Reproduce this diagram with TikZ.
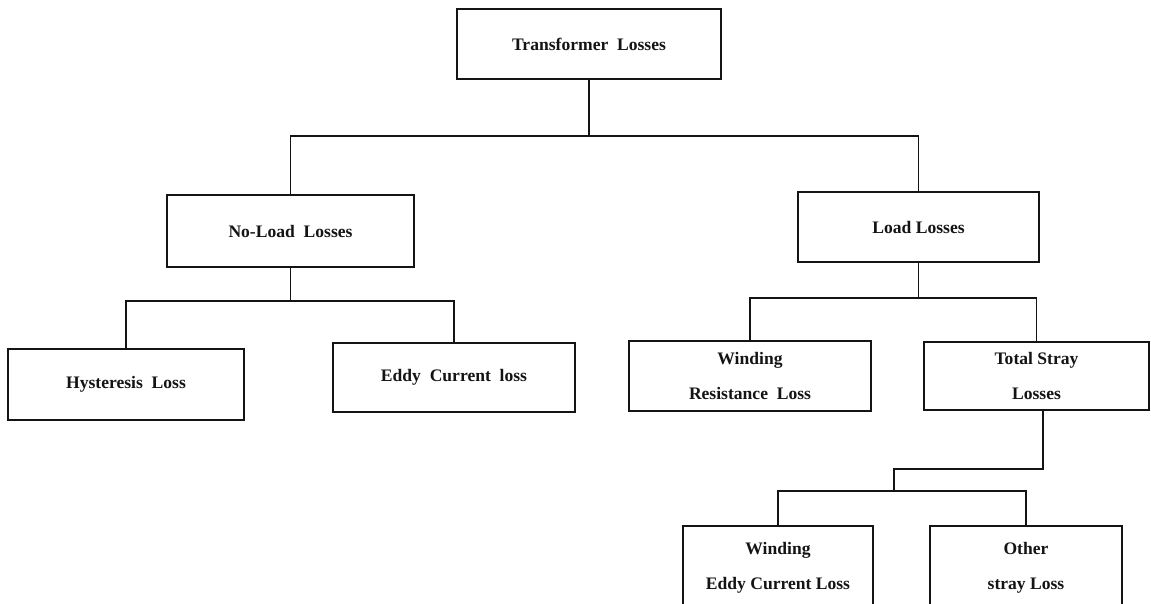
\documentclass[tikz,border=0pt]{standalone}
\usepackage{fontspec}
\setmainfont{Liberation Serif}
\usetikzlibrary{calc}
\definecolor{ink}{HTML}{141414}
\tikzset{
  lossbox/.style={rectangle, draw=ink, line width=0.9pt, fill=white, text=ink,
    align=center, inner sep=2pt, font=\bfseries\fontsize{10}{20}\selectfont},
  link/.style={draw=ink, line width=0.9pt},
}

\begin{document}
\begin{tikzpicture}[x=0.02cm, y=-0.02cm]
\useasboundingbox (0,0) rectangle (1151,604);
% top level
\node[lossbox, minimum width=5.28cm, minimum height=1.40cm] (trans) at (589,44) {Transformer~ Losses};
\node[lossbox, minimum width=4.94cm, minimum height=1.44cm] (noload) at (290.5,231) {No-Load~ Losses};
\node[lossbox, minimum width=4.82cm, minimum height=1.40cm] (load) at (918.5,227) {Load Losses};
% no-load branch
\node[lossbox, minimum width=4.72cm, minimum height=1.42cm] (hyst) at (126,384.5) {Hysteresis~ Loss};
\node[lossbox, minimum width=4.84cm, minimum height=1.38cm] (eddy) at (454,377.5) {Eddy~ Current~ loss};
% load branch
\node[lossbox, minimum width=4.84cm, minimum height=1.40cm] (windres) at (750,376) {Winding\\Resistance~ Loss};
\node[lossbox, minimum width=4.50cm, minimum height=1.36cm] (stray) at (1036.5,376) {Total Stray\\Losses};
\node[lossbox, minimum width=3.80cm, minimum height=1.68cm] (windeddy) at (778,568) {Winding\\Eddy Current Loss};
\node[lossbox, minimum width=3.84cm, minimum height=1.68cm] (other) at (1026,568) {Other\\stray Loss};

% connectors
\coordinate (j1) at ($(trans.south)+(0,56)$);
\coordinate (j2) at ($(noload.south)+(0,33)$);
\coordinate (j3) at ($(load.south)+(0,35)$);
\coordinate (s1) at (1043,469);
\coordinate (s2) at (894,491);
\draw[link] (trans.south) -- (j1);
\draw[link] (noload.north) |- (j1) -| (load.north);
\draw[link] (noload.south) -- (j2);
\draw[link] (hyst.north) |- (j2) -| (eddy.north);
\draw[link] (load.south) -- (j3);
\draw[link] (windres.north) |- (j3) -| (stray.north);
\draw[link] (stray.south -| s1) -- (s1) -| (s2);
\draw[link] (windeddy.north) |- (s2) -| (other.north);
\end{tikzpicture}
\end{document}
